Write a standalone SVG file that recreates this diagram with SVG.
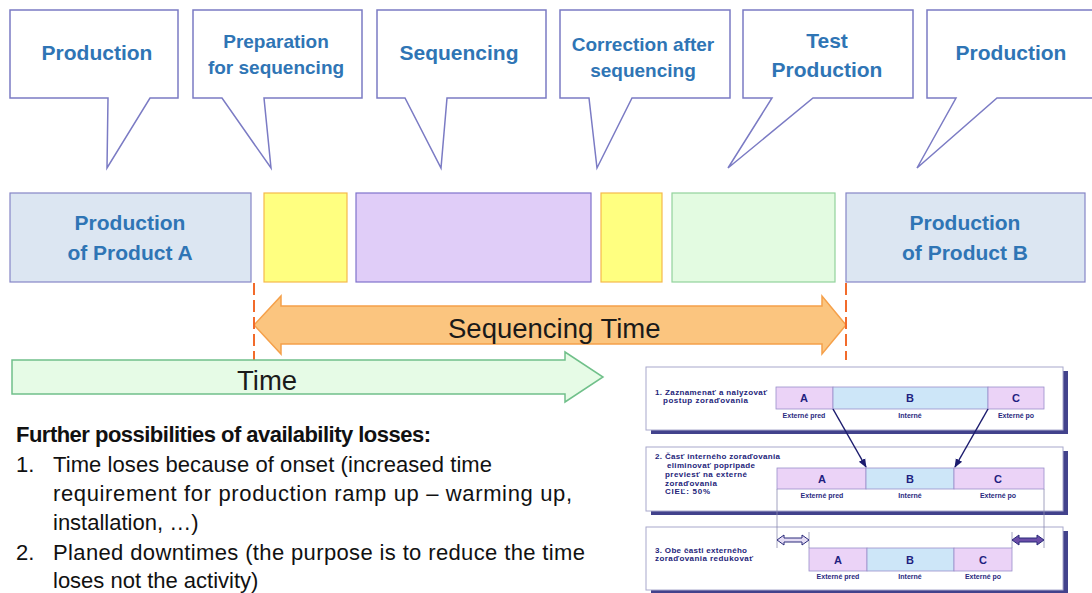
<svg xmlns="http://www.w3.org/2000/svg" width="1092" height="593" viewBox="0 0 1092 593">
<defs>
<style>
.callout{fill:#fff;stroke:#7b7bc4;stroke-width:1.5;stroke-linejoin:miter}
.ct{font-family:"Liberation Sans",Arial,sans-serif;font-weight:bold;fill:#2f75b5;text-anchor:middle}
.blue{fill:#dce6f2;stroke:#8585c6;stroke-width:1.2}
.yel{fill:#ffff80;stroke:#f5b94b;stroke-width:1.2}
.pur{fill:#e0cdf8;stroke:#7f72cc;stroke-width:1.2}
.grn{fill:#e3fbe1;stroke:#92d39c;stroke-width:1.2}
.dash{stroke:#f26b2b;stroke-width:2;stroke-dasharray:12 5;fill:none}
.big{font-family:"Liberation Sans",Arial,sans-serif;font-size:27.5px;fill:#1a1a1a}
.body{font-family:"Liberation Sans",Arial,sans-serif;font-size:22px;fill:#111}
.panel{fill:#fff;stroke:#a8a8cc;stroke-width:1}
.shadow{fill:#42428c}
.pt{font-family:"Liberation Sans",Arial,sans-serif;font-weight:bold;font-size:8px;fill:#24247a}
.lab{font-family:"Liberation Sans",Arial,sans-serif;font-weight:bold;font-size:7px;fill:#2a2a80;text-anchor:middle}
.let{font-family:"Liberation Sans",Arial,sans-serif;font-weight:bold;font-size:11px;fill:#1f1f80;text-anchor:middle}
.ext{fill:#ebd3f7;stroke:#9a8fca;stroke-width:0.8}
.int{fill:#cde6f8;stroke:#9a8fca;stroke-width:0.8}
.vl{stroke:#8a8ab0;stroke-width:0.8}
.conn{stroke:#1c1c6e;stroke-width:1.5;fill:none}
</style>
<marker id="ah" viewBox="0 0 10 10" refX="9" refY="5" markerWidth="6" markerHeight="6" orient="auto"><path d="M0,1 L10,5 L0,9 Z" fill="#1c1c6e"/></marker>
</defs>

<!-- callouts -->
<g id="callout-production-1">
<path class="callout" d="M10,10 H178 V98 H150 L107,168 L108,98 H10 Z"/>
<text class="ct" x="97" y="60" font-size="21">Production</text>
</g>
<g id="callout-preparation">
<path class="callout" d="M193,10 H362 V98 H264 L271,168 L222,98 H193 Z"/>
<text class="ct" x="276" y="48" font-size="19">Preparation</text>
<text class="ct" x="276" y="74" font-size="19">for sequencing</text>
</g>
<g id="callout-sequencing">
<path class="callout" d="M377,10 H546 V98 H447 L441,168 L405,98 H377 Z"/>
<text class="ct" x="459" y="60" font-size="21">Sequencing</text>
</g>
<g id="callout-correction">
<path class="callout" d="M560,10 H730 V98 H632 L597,168 L589,98 H560 Z"/>
<text class="ct" x="643" y="51" font-size="19">Correction after</text>
<text class="ct" x="643" y="77" font-size="19">sequencing</text>
</g>
<g id="callout-test">
<path class="callout" d="M743,10 H913 V98 H813 L728,168 L772,98 H743 Z"/>
<text class="ct" x="827" y="48" font-size="21">Test</text>
<text class="ct" x="827" y="77" font-size="21">Production</text>
</g>
<g id="callout-production-2">
<path class="callout" d="M927,10 H1100 V98 H997 L917,168 L956,98 H927 Z"/>
<text class="ct" x="1011" y="60" font-size="21">Production</text>
</g>

<!-- timeline bars -->
<g id="bar-product-a">
<rect class="blue" x="10" y="193" width="241" height="89"/>
<text class="ct" x="130" y="230" font-size="21">Production</text>
<text class="ct" x="130" y="260" font-size="21">of Product A</text>
</g>
<g id="bar-preparation"><rect class="yel" x="264" y="193" width="83" height="89"/></g>
<g id="bar-sequencing"><rect class="pur" x="356" y="193" width="235" height="89"/></g>
<g id="bar-correction"><rect class="yel" x="601" y="193" width="61" height="89"/></g>
<g id="bar-test"><rect class="grn" x="672" y="193" width="163" height="89"/></g>
<g id="bar-product-b">
<rect class="blue" x="846" y="193" width="239" height="89"/>
<text class="ct" x="965" y="230" font-size="21">Production</text>
<text class="ct" x="965" y="260" font-size="21">of Product B</text>
</g>

<!-- sequencing time arrow -->
<g id="sequencing-time">
<polygon points="254,325 281,296 281,306 822,306 822,296 846,325 822,354 822,344 281,344 281,354" fill="#fbc57f" stroke="#f5a04a" stroke-width="1.5"/>
<text class="big" x="448" y="338">Sequencing Time</text>
</g>
<g id="markers">
<line class="dash" x1="254" y1="283" x2="254" y2="360"/>
<line class="dash" x1="846" y1="283" x2="846" y2="360"/>
</g>

<!-- time arrow -->
<g id="time-arrow">
<polygon points="12,360 565,360 565,352 603,377 565,402 565,394 12,394" fill="#e6fbe6" stroke="#70c08a" stroke-width="1.5"/>
<text class="big" x="237" y="390">Time</text>
</g>

<!-- text list -->
<g id="losses-text">
<text class="body" x="16" y="442" font-weight="bold" font-size="21" textLength="415">Further possibilities of availability losses:</text>
<text class="body" x="16" y="472">1.</text>
<text class="body" x="53" y="472" textLength="439">Time loses because of onset (increased time</text>
<text class="body" x="53" y="501" textLength="519">requirement for production ramp up – warming up,</text>
<text class="body" x="53" y="530">installation, …)</text>
<text class="body" x="16" y="560">2.</text>
<text class="body" x="53" y="560" textLength="532">Planed downtimes (the purpose is to reduce the time</text>
<text class="body" x="53" y="588">loses not the activity)</text>
</g>

<!-- SMED panel -->
<g id="panel-1">
<rect class="shadow" x="651" y="371" width="417" height="63"/>
<rect class="panel" x="646" y="367" width="417" height="63"/>
<text class="pt" x="655" y="395" textLength="112">1. Zaznamenať a nalyzovať</text>
<text class="pt" x="663" y="403" textLength="85">postup zoraďovania</text>
<rect class="ext" x="776" y="387" width="57" height="22"/>
<rect class="int" x="833" y="387" width="155" height="22"/>
<rect class="ext" x="988" y="387" width="56" height="22"/>
<text class="let" x="804" y="402">A</text>
<text class="let" x="910" y="402">B</text>
<text class="let" x="1016" y="402">C</text>
<text class="lab" x="804" y="418">Externé pred</text>
<text class="lab" x="910" y="418">Interné</text>
<text class="lab" x="1016" y="418">Externé po</text>
</g>
<g id="panel-2">
<rect class="shadow" x="651" y="451" width="417" height="64"/>
<rect class="panel" x="646" y="447" width="417" height="64"/>
<text class="pt" x="655" y="459" textLength="125">2. Časť interného zoraďovania</text>
<text class="pt" x="667" y="468" textLength="88">eliminovať popripade</text>
<text class="pt" x="665" y="477" textLength="82">previesť na externé</text>
<text class="pt" x="665" y="486" textLength="52">zoraďovania</text>
<text class="pt" x="665" y="494" textLength="45">CIEĽ:  50%</text>
<rect class="ext" x="777" y="468" width="89" height="21"/>
<rect class="int" x="866" y="468" width="88" height="21"/>
<rect class="ext" x="954" y="468" width="90" height="21"/>
<text class="let" x="822" y="482.5">A</text>
<text class="let" x="910" y="482.5">B</text>
<text class="let" x="998" y="482.5">C</text>
<text class="lab" x="822" y="498">Externé pred</text>
<text class="lab" x="910" y="498">Interné</text>
<text class="lab" x="998" y="498">Externé po</text>
</g>
<g id="panel-3">
<rect class="shadow" x="651" y="531" width="417" height="63"/>
<rect class="panel" x="646" y="527" width="417" height="63"/>
<text class="pt" x="655" y="553" textLength="92">3. Obe časti externého</text>
<text class="pt" x="655" y="561" textLength="98">zoraďovania redukovať</text>
<rect class="ext" x="809" y="548" width="58" height="23"/>
<rect class="int" x="867" y="548" width="87" height="23"/>
<rect class="ext" x="954" y="548" width="58" height="23"/>
<text class="let" x="838" y="563.5">A</text>
<text class="let" x="910" y="563.5">B</text>
<text class="let" x="983" y="563.5">C</text>
<text class="lab" x="838" y="579">Externé pred</text>
<text class="lab" x="910" y="579">Interné</text>
<text class="lab" x="983" y="579">Externé po</text>
</g>

<g id="connectors">
<line class="conn" x1="833" y1="409" x2="866" y2="467" marker-end="url(#ah)"/>
<line class="conn" x1="988" y1="409" x2="955" y2="467" marker-end="url(#ah)"/>
<line class="vl" x1="777" y1="489" x2="777" y2="548"/>
<line class="vl" x1="1044" y1="489" x2="1044" y2="548"/>
<line class="vl" x1="809" y1="532" x2="809" y2="548"/>
<line class="vl" x1="1012" y1="532" x2="1012" y2="548"/>
<polygon points="777,540 784,535 784,538 802,538 802,535 809,540 802,545 802,542 784,542 784,545" fill="#e4dcf4" stroke="#2a2a7a" stroke-width="1"/>
<polygon points="1012,540 1019,535 1019,538 1037,538 1037,535 1044,540 1037,545 1037,542 1019,542 1019,545" fill="#6b4ea8" stroke="#2a2a7a" stroke-width="1"/>
</g>
</svg>
